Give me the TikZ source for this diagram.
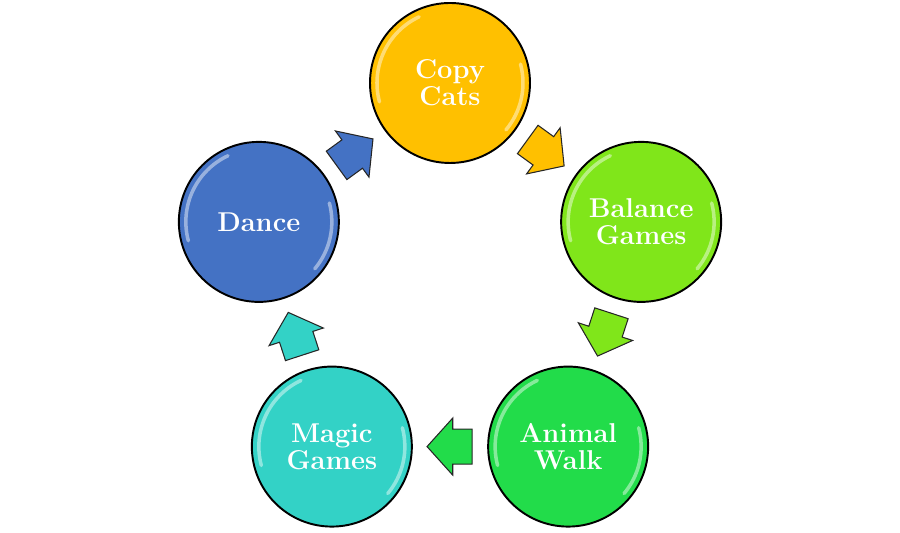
\documentclass[tikz,border=0pt]{standalone}
\usepackage{tikz}
\usetikzlibrary{shapes.arrows}
\definecolor{copycol}{HTML}{FFC000}
\definecolor{balcol}{HTML}{80E61A}
\definecolor{animcol}{HTML}{22DC4A}
\definecolor{magiccol}{HTML}{33D2C6}
\definecolor{dancecol}{HTML}{4472C4}

\begin{document}
\begin{tikzpicture}[
		bubble/.style={circle, draw=black, line width=1.1pt, minimum size=3.2cm, inner sep=0pt, text=white, align=center, font=\fontsize{15.5}{15.4}\selectfont\bfseries},
		flow/.style={single arrow, draw=black!85, line width=0.6pt, text height=0.68cm, text depth=0pt, text width=0pt, minimum height=0.9cm, single arrow head extend=0.22cm, single arrow tip angle=96, inner sep=0pt, pos=0.4, sloped, allow upside down},
		gloss/.style={white, line width=2pt, opacity=0.45, line cap=round}
	]
	\useasboundingbox (0,0) rectangle (18,10.66);
	% the five circles
	\node[bubble, fill=copycol] (copy) at (9,9) {Copy\\Cats};
	\node[bubble, fill=balcol] (balance) at (12.823,6.222) {Balance\\Games};
	\node[bubble, fill=animcol] (animal) at (11.363,1.728) {Animal\\Walk};
	\node[bubble, fill=magiccol] (magic) at (6.637,1.728) {Magic\\Games};
	\node[bubble, fill=dancecol] (dance) at (5.177,6.222) {Dance};
	% shine
	\foreach \n in {copy,balance,animal,magic,dance} {
		\draw[gloss] (\n.center) ++(115:1.46) arc (115:195:1.46);
		\draw[gloss] (\n.center) ++(15:1.46) arc (15:-40:1.46);
	}
	% arrows
	\path (copy) -- node[flow, fill=copycol] {} (balance);
	\path (balance) -- node[flow, fill=balcol] {} (animal);
	\path (animal) -- node[flow, fill=animcol] {} (magic);
	\path (magic) -- node[flow, fill=magiccol] {} (dance);
	\path (dance) -- node[flow, fill=dancecol] {} (copy);
\end{tikzpicture}
\end{document}
